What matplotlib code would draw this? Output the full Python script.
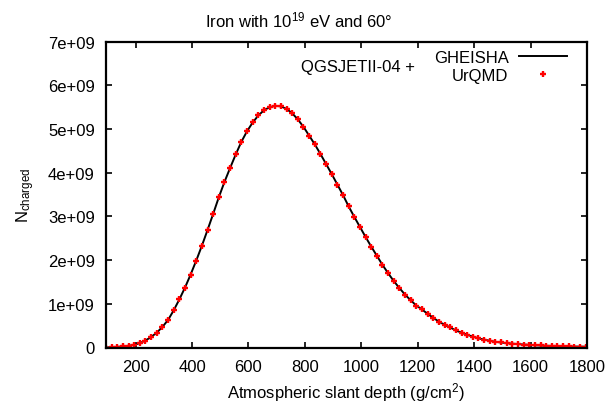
import matplotlib
matplotlib.use('Agg')
import matplotlib.pyplot as plt

plt.rcParams['font.family'] = ['Liberation Sans', 'DejaVu Sans']
plt.rcParams['mathtext.default'] = 'regular'

# slant depth (g/cm^2)
depth = [95, 115, 135, 155, 175, 195, 215, 235, 255, 275,
         295, 315, 335, 355, 375, 395, 415, 435, 455, 475,
         495, 515, 535, 555, 575, 595, 615, 635, 655, 675,
         695, 715, 735, 755, 775, 795, 815, 835, 855, 875,
         895, 915, 935, 955, 975, 995, 1015, 1035, 1055, 1075,
         1095, 1115, 1135, 1155, 1175, 1195, 1215, 1235, 1255, 1275,
         1295, 1315, 1335, 1355, 1375, 1395, 1415, 1435, 1455, 1475,
         1495, 1515, 1535, 1555, 1575, 1595, 1615, 1635, 1655, 1675,
         1695, 1715, 1735, 1755, 1775, 1795]

# number of charged particles, in units of 1e9
gheisha = [0.0, 0.008, 0.015, 0.025, 0.04, 0.06, 0.10, 0.16, 0.24, 0.34,
           0.47, 0.63, 0.85, 1.10, 1.37, 1.67, 1.99, 2.33, 2.69, 3.06,
           3.44, 3.79, 4.11, 4.42, 4.71, 4.95, 5.15, 5.31, 5.43, 5.50,
           5.53, 5.52, 5.46, 5.36, 5.22, 5.05, 4.85, 4.65, 4.43, 4.20,
           3.97, 3.73, 3.49, 3.23, 2.99, 2.76, 2.53, 2.31, 2.10, 1.89,
           1.70, 1.52, 1.36, 1.21, 1.08, 0.96, 0.87, 0.77, 0.68, 0.59,
           0.52, 0.46, 0.39, 0.34, 0.29, 0.25, 0.21, 0.18, 0.155, 0.13,
           0.115, 0.10, 0.088, 0.078, 0.068, 0.06, 0.052, 0.046, 0.04, 0.036,
           0.032, 0.028, 0.025, 0.022, 0.02, 0.018]
# UrQMD points lie on top of the GHEISHA curve
urqmd = list(gheisha)

xticks = [200, 400, 600, 800, 1000, 1200, 1400, 1600, 1800]
yticks = [0, 1, 2, 3, 4, 5, 6, 7]
ytick_labels = ['0', '1e+09', '2e+09', '3e+09', '4e+09', '5e+09', '6e+09', '7e+09']

fs = 12

fig = plt.figure(figsize=(6.09, 4.10), dpi=100)
ax = fig.add_axes([0.174, 0.150, 0.790, 0.746])

ax.plot(depth, [v * 1e9 for v in gheisha], color='black', lw=1.4, label='GHEISHA')
ax.plot(depth, [v * 1e9 for v in urqmd], color='#ff0000', lw=0, marker='+',
        markersize=5, markeredgewidth=1.7, label='UrQMD')

ax.set_xlim(95, 1800)
ax.set_ylim(0, 7e9)
ax.set_xticks(xticks)
ax.set_yticks([v * 1e9 for v in yticks])
ax.set_yticklabels(ytick_labels)

for s in ax.spines.values():
    s.set_linewidth(1.6)
ax.tick_params(direction='in', top=True, right=True, length=4, width=1.2,
               labelsize=fs)
ax.tick_params(axis='x', pad=8)
ax.tick_params(axis='y', pad=8)

ax.set_xlabel('Atmospheric slant depth (g/cm$^{2}$)', fontsize=fs, labelpad=5)
ax.set_ylabel('N$_{charged}$', fontsize=fs, labelpad=8)
fig.suptitle('Iron with 10$^{19}$ eV and 60°', fontsize=fs, x=0.49, y=0.975)

leg = ax.legend(loc='upper right', bbox_to_anchor=(0.958, 0.972),
                markerfirst=False, frameon=False, fontsize=fs,
                handlelength=2.9, handletextpad=0.6, labelspacing=0.15,
                borderaxespad=0.0, borderpad=0.0, markerscale=0.75)
for t in leg.get_texts():
    t.set_ha('right')
ax.text(0.406, 0.92, 'QGSJETII-04 +', transform=ax.transAxes, fontsize=fs,
        va='center', ha='left')

fig.savefig('out.png', dpi=100)
